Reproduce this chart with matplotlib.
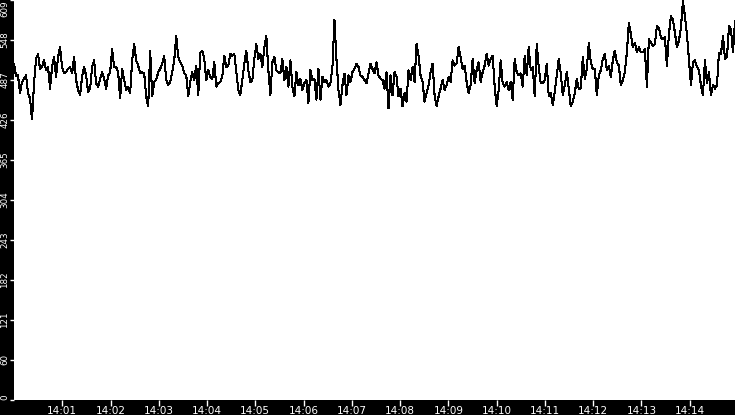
import matplotlib
matplotlib.use("Agg")
import matplotlib.pyplot as plt
import matplotlib.dates as mdates
import numpy as np
import pandas as pd

# Readings, one strip of the trace per ~1.9 minutes (left to right)
strip1 = [512, 493, 494, 467, 484, 489, 494, 467, 459, 427, 482, 519, 527, 504, 507,
          517, 502, 507, 474, 507, 522, 492, 522, 537, 507, 497, 499, 504, 507, 497,
          522, 487, 472, 464, 492, 507, 494, 469, 474, 507, 517, 482, 477, 489, 499]
strip2 = [489, 474, 494, 499, 534, 507, 507, 499, 459, 504, 487, 472, 477, 467, 517,
          542, 517, 509, 497, 499, 497, 462, 447, 532, 462, 484, 487, 499, 504, 512,
          524, 487, 479, 484, 499, 517, 554, 522, 514, 509, 497, 494, 462, 484, 499]
strip3 = [487, 509, 464, 529, 532, 519, 487, 502, 492, 489, 514, 477, 482, 484, 492,
          524, 507, 509, 527, 524, 527, 499, 472, 464, 487, 512, 532, 502, 484, 487,
          519, 542, 519, 527, 507, 537, 554, 502, 464, 514, 522, 502, 499, 497, 519]
strip4 = [487, 507, 477, 517, 477, 462, 499, 479, 489, 472, 482, 487, 452, 502, 487,
          489, 457, 504, 457, 492, 484, 487, 477, 482, 507, 579, 519, 472, 449, 479,
          497, 464, 494, 484, 499, 504, 512, 507, 494, 492, 487, 482, 497, 512, 504]
strip5 = [497, 514, 494, 489, 487, 474, 499, 444, 494, 464, 499, 492, 462, 474, 447,
          467, 454, 502, 487, 507, 484, 542, 524, 494, 484, 454, 467, 479, 499, 512,
          464, 447, 462, 474, 487, 472, 479, 492, 484, 517, 509, 512, 537, 522, 504]
strip6 = [509, 484, 467, 479, 519, 482, 502, 514, 484, 499, 509, 527, 509, 519, 524,
          477, 447, 472, 517, 482, 477, 484, 472, 484, 457, 519, 499, 494, 497, 477,
          524, 494, 537, 502, 507, 462, 542, 507, 482, 482, 487, 512, 462, 467, 449]
strip7 = [469, 494, 519, 497, 464, 479, 499, 474, 447, 454, 467, 489, 474, 474, 522,
          489, 504, 544, 514, 504, 504, 464, 494, 502, 519, 527, 502, 509, 492, 517,
          532, 514, 509, 479, 487, 499, 529, 574, 557, 537, 544, 529, 537, 529, 529]
strip8 = [534, 477, 549, 544, 539, 542, 569, 567, 552, 549, 552, 509, 557, 584, 579,
          559, 537, 547, 567, 607, 584, 557, 517, 479, 514, 517, 507, 502, 479, 464,
          517, 482, 499, 464, 479, 474, 479, 529, 527, 554, 519, 522, 569, 564, 529, 577]

values = strip1 + strip2 + strip3 + strip4 + strip5 + strip6 + strip7 + strip8
times = pd.date_range("2024-01-01 14:00:00", periods=len(values), freq="2490ms")
minute_ticks = pd.date_range("2024-01-01 14:01:00", "2024-01-01 14:14:00", freq="1min")

y_max = 609
y_ticks = np.linspace(0, y_max, 11)

fig = plt.figure(figsize=(7.35, 4.15), dpi=100, facecolor="black")
ax = fig.add_axes([14 / 735, 15.5 / 415, 721 / 735, 399.5 / 415])
ax.set_facecolor("white")

ax.plot(times, values, color="black", linewidth=0.75, antialiased=False)

ax.set_xlim(times[0], times[-1])
ax.set_ylim(0, y_max)

ax.set_xticks(minute_ticks)
ax.xaxis.set_major_formatter(mdates.DateFormatter("%H:%M"))
ax.set_yticks(y_ticks)
ax.set_yticklabels([str(int(v)) for v in y_ticks])

for s in ax.spines.values():
    s.set_visible(False)

ax.tick_params(axis="x", colors="white", direction="out", length=4, width=1,
               pad=0.5, labelsize=7.5)
ax.tick_params(axis="y", colors="white", direction="out", length=3, width=1,
               pad=0.3, labelsize=6.3)
for lbl in ax.get_yticklabels():
    lbl.set_rotation(90)
    lbl.set_va("center")
ax.get_yticklabels()[-1].set_va("top")
ax.get_yticklabels()[0].set_va("bottom")

fig.savefig("out.png", dpi=100, facecolor="black")
